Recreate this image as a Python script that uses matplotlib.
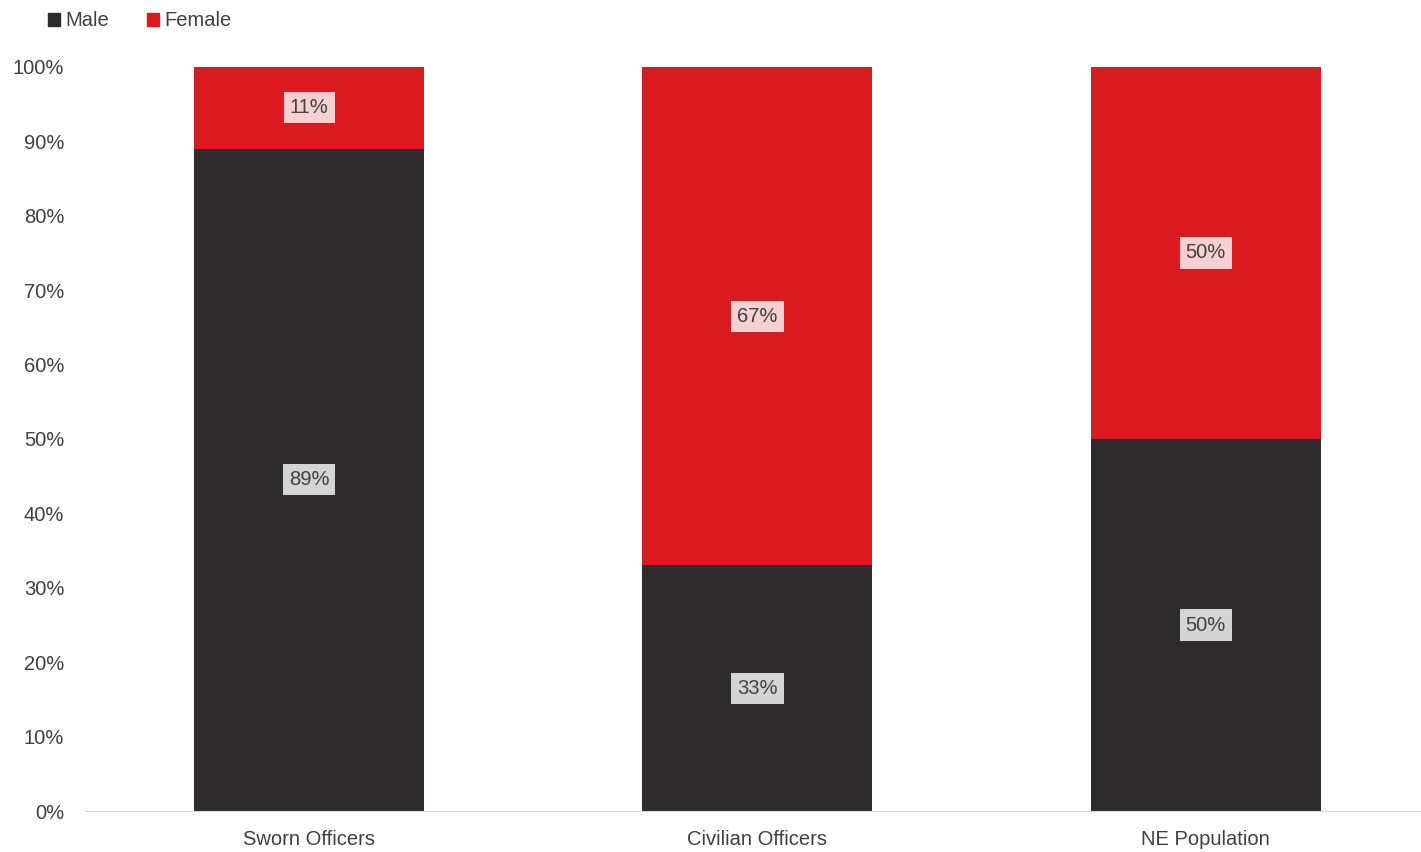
import matplotlib
matplotlib.use("Agg")
import matplotlib.pyplot as plt
from matplotlib.patches import Patch
from matplotlib.ticker import FuncFormatter

categories = ["Sworn Officers", "Civilian Officers", "NE Population"]
male = [89, 33, 50]
female = [11, 67, 50]
male_labels = ["89%", "33%", "50%"]
female_labels = ["11%", "67%", "50%"]

MALE_C = "#2e2b2c"
FEMALE_C = "#d91a21"
TEXT_C = "#404040"
FS = 14.5

plt.rcParams["font.family"] = ["Liberation Sans Narrow", "Liberation Sans", "DejaVu Sans"]

fig = plt.figure(figsize=(14.21, 8.52), dpi=100)
ax = fig.add_axes([0.0598, 0.0481, 0.9402, 0.8733])

x = list(range(len(categories)))
ax.bar(x, male, width=0.513, color=MALE_C, label="Male")
ax.bar(x, female, width=0.513, bottom=male, color=FEMALE_C, label="Female")

bbox = dict(boxstyle="square,pad=0.3", facecolor="white", alpha=0.8, edgecolor="none")
for i in x:
    ax.text(i, male[i] / 2, male_labels[i], ha="center", va="center",
            fontsize=FS, color=TEXT_C, bbox=bbox)
    ax.text(i, male[i] + female[i] / 2, female_labels[i], ha="center", va="center",
            fontsize=FS, color=TEXT_C, bbox=bbox)

ax.set_xlim(-0.5, 2.48)
ax.set_ylim(0, 100)
ax.set_yticks(range(0, 101, 10))
ax.yaxis.set_major_formatter(FuncFormatter(lambda v, p: f"{int(v)}%"))
ax.set_xticks(x)
ax.set_xticklabels(categories)
ax.tick_params(axis="both", length=0, labelsize=FS, labelcolor=TEXT_C)
ax.tick_params(axis="y", pad=15)
ax.tick_params(axis="x", pad=14)
for s in ["top", "right", "left"]:
    ax.spines[s].set_visible(False)
ax.spines["bottom"].set_color("#d9d9d9")

handles = [Patch(color=MALE_C, label="Male"), Patch(color=FEMALE_C, label="Female")]
fig.legend(handles=handles, loc="upper left", bbox_to_anchor=(0.021, 1.008), ncol=2,
           frameon=False, fontsize=FS, handlelength=0.6, handleheight=0.6,
           handletextpad=0.25, columnspacing=1.9, labelcolor=TEXT_C)

fig.savefig("out.png", dpi=100)
